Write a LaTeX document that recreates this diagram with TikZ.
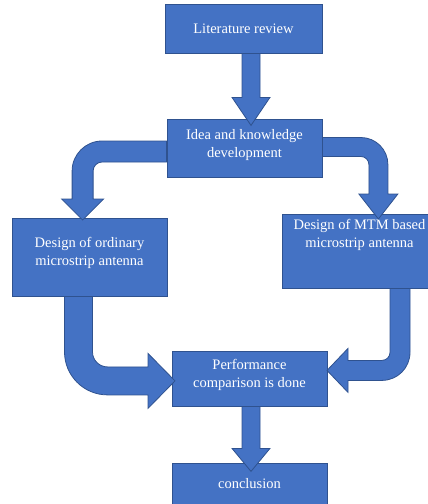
\documentclass[tikz,border=0pt]{standalone}
\usepackage{fontspec}
\setmainfont{Liberation Serif}
\usepackage{tikz}
\usetikzlibrary{calc}
\definecolor{blau}{HTML}{4472C4}
\definecolor{dblau}{HTML}{2F528F}
\tikzset{
  kasten/.style={draw=dblau,fill=blau,line width=0.8pt,text=white,align=center,
    inner sep=0pt,minimum width=155pt,font=\fontsize{14.5}{18}\selectfont},
  pfeil/.style={draw=dblau,fill=blau,line width=0.8pt,line join=miter},
}
\begin{document}
\begin{tikzpicture}[x=1pt,y=-1pt]
  \useasboundingbox (0,0) rectangle (428,504);
  \node[kasten,minimum width=157pt,minimum height=49pt] (lit) at (243.5,28.5) {Literature review};
  \node[kasten,minimum height=58pt,text depth=10pt] (idea) at (244.5,148) {Idea and knowledge\\development};
  \node[kasten,minimum height=78pt,text depth=12pt] (ord) at (89.5,257) {Design of ordinary\\microstrip antenna};
  \node[kasten,minimum height=74pt,text depth=35pt] (mtm) at (359.5,251) {Design of MTM based\\microstrip antenna};
  \node[kasten,minimum height=55pt,text depth=11pt] (perf) at (249.5,378.5) {Performance\\comparison is done};
  \node[kasten,minimum height=42pt] (concl) at (249.5,484) {conclusion};
  % block arrows
  \draw[pfeil] ($(lit.south)+(-1.5,0)$) -- ++(0,44) -- ++(-10,0) -- ++(19,28)
    -- ++(19,-28) -- ++(-10,0) -- ++(0,-44) -- cycle;
  \draw[pfeil] ($(idea.west)+(0,-7)$) -- ++(-64.5,0) arc[start angle=270,end angle=180,radius=30]
    -- ++(0,28) -- ++(-10.5,0) -- ++(21,21) -- ++(21,-21) -- ++(-10.5,0) -- ++(0,-28)
    arc[start angle=180,end angle=270,radius=9] -- ++(64.5,0) -- cycle;
  \draw[pfeil] ($(idea.east)+(0,-10.5)$) -- ++(38.5,0) arc[start angle=270,end angle=360,radius=27]
    -- ++(0,29.5) -- ++(10,0) -- ++(-19.5,25) -- ++(-19.5,-25) -- ++(10,0) -- ++(0,-29.5)
    arc[start angle=0,end angle=-90,radius=8] -- ++(-38.5,0) -- cycle;
  \draw[pfeil] ($(ord.south)+(-25,0)$) -- ++(0,55.5) arc[start angle=180,end angle=90,radius=43]
    -- ++(40.5,0) -- ++(0,13.5) -- ++(27,-27.5) -- ++(-27,-27.5) -- ++(0,13.5) -- ++(-40.5,0)
    arc[start angle=90,end angle=180,radius=15] -- ++(0,-55.5) -- cycle;
  \draw[pfeil] ($(mtm.south)+(30.5,0)$) -- ++(0,64) arc[start angle=0,end angle=90,radius=8]
    -- ++(-34,0) -- ++(0,-12) -- ++(-21,22) -- ++(21,22) -- ++(0,-12) -- ++(34,0)
    arc[start angle=90,end angle=0,radius=28] -- ++(0,-64) -- cycle;
  \draw[pfeil] ($(perf.south)+(-7.5,0)$) -- ++(0,42) -- ++(-10,0) -- ++(19,23)
    -- ++(19,-23) -- ++(-10,0) -- ++(0,-42) -- cycle;
\end{tikzpicture}
\end{document}
